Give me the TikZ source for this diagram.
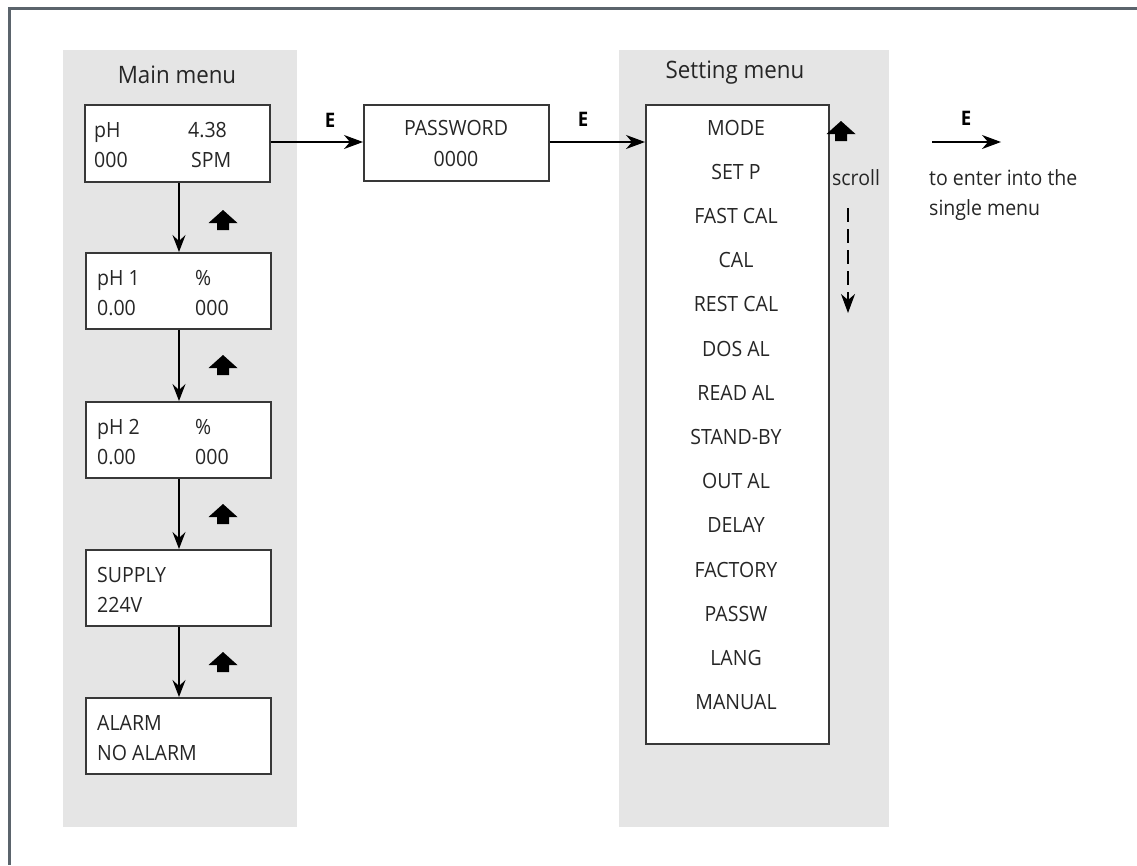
\documentclass[tikz,border=0pt]{standalone}
\usepackage{fontspec}
\setmainfont{Open Sans}[FakeStretch=0.93]
\usetikzlibrary{arrows.meta}
\definecolor{panelgray}{HTML}{E5E5E5}
\definecolor{framegray}{HTML}{5B646C}
\definecolor{boxline}{HTML}{383838}
\tikzset{
  panel/.style={fill=panelgray, draw=none},
  dispbox/.style={draw=boxline, line width=1.6pt, fill=white, rectangle, anchor=north west, inner sep=0pt},
  boxtxt/.style={anchor=base west, inner sep=0pt, font=\fontsize{21}{24}\selectfont, text=black!85},
  itemtxt/.style={anchor=base, inner sep=0pt, font=\fontsize{21}{24}\selectfont, text=black!85},
  titletxt/.style={anchor=center, inner sep=0pt, font=\fontsize{24}{28}\selectfont, text=black!85},
  elabel/.style={anchor=center, inner sep=0pt, font=\bfseries\fontsize{20}{24}\selectfont},
  flow/.style={line width=1.3pt, -{Stealth[length=19pt,width=14pt,inset=6pt]}},
  downflow/.style={line width=1.3pt, -{Stealth[length=17pt,width=13pt,inset=6pt]}},
  upicon/.pic={\fill[black] (0,-11) -- (14.5,2) -- (6,2) -- (6,9) -- (-6,9) -- (-6,2) -- (-14.5,2) -- cycle;}
}
\begin{document}
\begin{tikzpicture}[x=1pt,y=-1pt]
\useasboundingbox (0,0) rectangle (1137,865);
% frame (top and left only)
\draw[framegray, line width=3pt] (1137,8.5) -- (9,8.5) -- (9,865);
% panels
\fill[panel] (63,50) rectangle (297,827);
\fill[panel] (619,50) rectangle (889,827);
\node[titletxt] (maintitle) at (177,75) {Main menu};
\node[titletxt] (settitle) at (735,73) {Setting menu};

% main menu boxes
\node[dispbox, minimum width=185pt, minimum height=77pt] (b1) at (84,104) {};
\node[dispbox, minimum width=185pt, minimum height=76pt] (b2) at (85,252) {};
\node[dispbox, minimum width=185pt, minimum height=76pt] (b3) at (85,401) {};
\node[dispbox, minimum width=185pt, minimum height=76pt] (b4) at (85,549) {};
\node[dispbox, minimum width=185pt, minimum height=76pt] (b5) at (85,697) {};

\node[boxtxt] (b1a) at (94,137) {pH};
\node[boxtxt] (b1b) at (188,137) {4.38};
\node[boxtxt] (b1c) at (94,167) {000};
\node[boxtxt] (b1d) at (191,167) {SPM};

\node[boxtxt] (b2a) at (97,285) {pH 1};
\node[boxtxt] (b2b) at (195,285) {\%};
\node[boxtxt] (b2c) at (97,315) {0.00};
\node[boxtxt] (b2d) at (195,315) {000};

\node[boxtxt] (b3a) at (97,434) {pH 2};
\node[boxtxt] (b3b) at (195,434) {\%};
\node[boxtxt] (b3c) at (97,464) {0.00};
\node[boxtxt] (b3d) at (195,464) {000};

\node[boxtxt] (b4a) at (97,582) {SUPPLY};
\node[boxtxt] (b4b) at (97,612) {224V};

\node[boxtxt] (b5a) at (97,730) {ALARM};
\node[boxtxt] (b5b) at (97,760) {NO ALARM};

\draw[downflow] (b1.south -| 179,0) -- (b2.north -| 179,0);
\draw[downflow] (b2.south -| 179,0) -- (b3.north -| 179,0);
\draw[downflow] (b3.south -| 179,0) -- (b4.north -| 179,0);
\draw[downflow] (b4.south -| 179,0) -- (b5.north -| 179,0);

\pic at (223,221) {upicon};
\pic at (223,366) {upicon};
\pic at (223,515) {upicon};
\pic at (223,663) {upicon};

% password box
\node[dispbox, minimum width=185pt, minimum height=76pt] (pw) at (363,104) {};
\node[itemtxt] (pwa) at (456,135) {PASSWORD};
\node[itemtxt] (pwb) at (456,166) {0000};

% setting menu box
\node[dispbox, minimum width=183pt, minimum height=639pt] (sm) at (645,104) {};
\foreach \t [count=\i from 0] in {MODE,SET P,FAST CAL,CAL,REST CAL,DOS AL,READ AL,STAND-BY,OUT AL,DELAY,FACTORY,PASSW,LANG,MANUAL}{
  \node[itemtxt] (si\i) at (736,{135+44.2*\i}) {\t};
}

% E arrows
\draw[flow] (b1.east |- 0,142) -- (pw.west |- 0,142);
\node[elabel] (e1) at (330,120) {E};
\draw[flow] (pw.east |- 0,142) -- (sm.west |- 0,142);
\node[elabel] (e2) at (583,119) {E};

% scroll
\pic at (841,132) {upicon};
\node[itemtxt] (scroll) at (856,185) {scroll};
\coordinate (dtop) at (848,208);
\coordinate (dbot) at (848,313);
\draw[line width=1.2pt, dash pattern=on 14pt off 7pt, -{Stealth[length=19pt,width=14pt,inset=6pt]}] (dtop) -- (dbot);

% E to single menu
\coordinate (ea) at (932,142);
\coordinate (eb) at (1001,142);
\draw[flow] (ea) -- (eb);
\node[elabel] (e3) at (966,118) {E};
\node[boxtxt] (t1) at (929,185) {to enter into the};
\node[boxtxt] (t2) at (929,215) {single menu};
\end{tikzpicture}
\end{document}
